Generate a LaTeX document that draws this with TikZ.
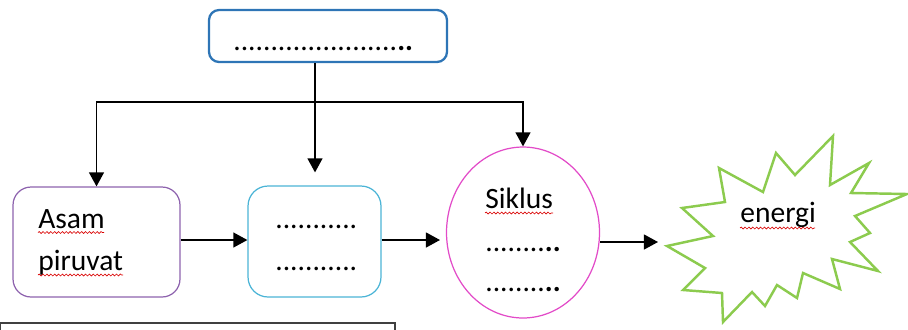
\documentclass[tikz,border=0pt]{standalone}
\usepackage{fontspec}
\setmainfont{Carlito}
\usetikzlibrary{arrows.meta,calc,shapes.geometric,decorations.pathmorphing}
\definecolor{topblue}{HTML}{2E75B6}
\definecolor{boxpurple}{HTML}{8E63AE}
\definecolor{boxcyan}{HTML}{4BB4D6}
\definecolor{ellpink}{HTML}{E24BC8}
\definecolor{burstgreen}{HTML}{8CCB4E}
\definecolor{framegray}{HTML}{404040}
\begin{document}
\begin{tikzpicture}[x=0.02cm,y=-0.02cm,
  arr/.style={draw=black,line width=0.85pt,-{Triangle[width=8.5pt,length=8pt]}},
  conn/.style={draw=black,line width=0.85pt},
  txt/.style={inner sep=0pt,anchor=base west,font=\fontsize{16.8}{20}\selectfont},
  squig/.style={draw=red!85!black,line width=0.35pt,decorate,decoration={snake,amplitude=0.55pt,segment length=2.2pt}}]
\useasboundingbox (0,0) rectangle (908,329);
\clip (0,0) rectangle (908,329);

% boxes
\node[draw=topblue,line width=1.3pt,rounded corners=0.2cm,minimum width=4.76cm,minimum height=1.04cm,inner sep=0pt] (top) at (328,36) {};
\node[draw=boxpurple,line width=0.7pt,rounded corners=0.36cm,minimum width=3.34cm,minimum height=2.2cm,inner sep=0pt] (b1) at (96.5,242) {};
\node[draw=boxcyan,line width=0.7pt,rounded corners=0.4cm,minimum width=2.66cm,minimum height=2.22cm,inner sep=0pt] (b2) at (314.5,241.5) {};
\node[draw=ellpink,line width=0.7pt,ellipse,minimum width=3.06cm,minimum height=3.42cm,inner sep=0pt] (ell) at (523,232.5) {};

% starburst
\draw[burstgreen,line width=1.4pt,line join=miter]
  (667,246) -- (713,236) -- (682,208) -- (725,202) -- (719,168) -- (763,192) -- (776,153) -- (795,175) -- (833,136) -- (830,185) -- (869,163) -- (851,193) -- (907,194) -- (855,216) -- (870,233) -- (850,242) -- (878,271) -- (832,259) -- (840,289) -- (803,273) -- (797,298) -- (777,285) -- (765,306) -- (752,292) -- (723,322) -- (722,293) -- (683,290) -- (705,268) -- cycle;

% texts
\node[txt] (ttop) at (233,50) {......................\textbf{..}};
\node[txt] (tasam) at (38,228) {Asam};
\node[txt] (tpir) at (38,270) {piruvat};
\node[txt] (tm1) at (275,228) {...........};
\node[txt] (tm2) at (275,270) {...........};
\node[txt] (tsik) at (485,208) {Siklus};
\node[txt] (te1) at (485,251) {........\textbf{..}};
\node[txt] (te2) at (485,291) {........\textbf{..}};
\node[txt] (tener) at (740,222) {energi};

% spell-check squiggles
\draw[squig] (38,232.5) -- (104,232.5);
\draw[squig] (38,275) -- (123,275);
\draw[squig] (485,213) -- (553,213);
\draw[squig] (740,228) -- (815,228);

% connectors
\coordinate (junc) at (315,102);
\coordinate (ein) at (440,240);
\coordinate (burstin) at (658,242);
\draw[conn] (top.south -| junc) -- (junc);
\draw[arr] (junc) -- ($(junc |- b2.north)+(0,-13)$);
\draw[arr] (junc) -| (b1.north);
\draw[arr] (junc) -| (ell.north);
\draw[arr] (b1.east |- ein) -- (b2.west |- ein);
\draw[arr] (b2.east |- ein) -- (ein);
\draw[arr] (ell.east |- burstin) -- (burstin);

% bottom frame (partly outside)
\draw[framegray,line width=0.7pt] (0.5,323) rectangle (395,360);
\end{tikzpicture}
\end{document}
